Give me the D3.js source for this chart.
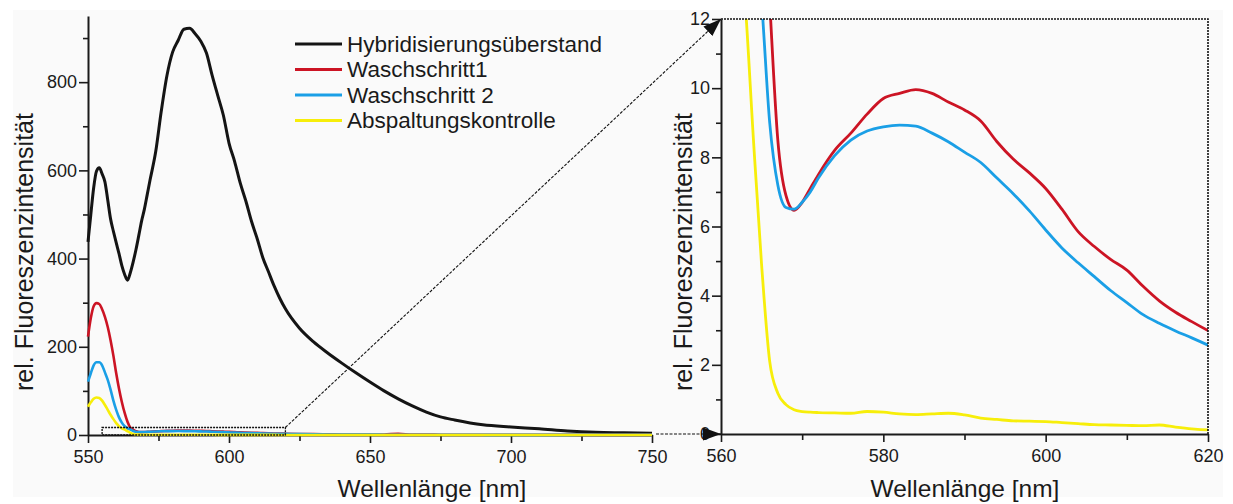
<!DOCTYPE html>
<html>
<head>
<meta charset="utf-8">
<script src="https://cdn.jsdelivr.net/npm/d3@7"></script>
<style>
  html, body { margin: 0; background: #fff; }
  svg { display: block; }
  text { font-family: "Liberation Sans", Arial, Helvetica, sans-serif; fill: #1a1a1a; }
</style>
</head>
<body>
<svg id="chart" width="1233" height="504"></svg>
<script>
// Emission spectra, wavelength grid in nm
const wavelengths = [550, 551, 552, 553, 554, 555, 556, 557, 558, 559, 560, 561, 562, 563, 564, 565, 566, 567, 568, 569,
  570, 571, 572, 574, 576, 578, 580, 582, 584, 586, 588, 590, 592, 594, 596, 598, 600, 602, 604, 606, 608, 610,
  612, 614, 616, 618, 620, 625, 630, 635, 640, 645, 650, 655, 660, 665, 670, 675, 680, 690, 700, 710, 720, 730, 740, 750];

const hybridisierung = [438, 500, 560, 598, 606, 592, 574, 533, 490, 462, 436, 411, 384, 364, 351, 368, 392, 420, 452, 485,
  512, 545, 578, 642, 735, 815, 868, 895, 920, 922, 910, 893, 866, 816, 770, 725, 662, 620, 571, 530, 484, 445,
  402, 370, 338, 310, 286, 242, 211, 186, 163, 141, 120, 100, 82, 66, 52, 41, 34, 23, 18, 14, 9, 6, 5, 4];

const waschschritt1 = [223, 265, 292, 299, 297, 285, 268, 245, 215, 180, 140, 105, 75, 50, 30, 17, 12.5, 8.5, 6.9, 6.47,
  6.7, 7.1, 7.5, 8.2, 8.7, 9.25, 9.7, 9.85, 9.96, 9.85, 9.6, 9.37, 9.05, 8.45, 7.95, 7.55, 7.1, 6.5, 5.85, 5.42, 5.05, 4.74,
  4.27, 3.85, 3.52, 3.25, 2.99, 2.4, 1.9, 1.6, 1.3, 1.1, 1.0, 1.2, 2.6, 0.9, 0.8, 0.7, 0.6, 0.5, 0.5, 0.4, 0.4, 0.3, 0.3, 0.3];

const waschschritt2 = [121, 140, 158, 165, 165, 158, 142, 125, 103, 78, 57, 40, 28, 20, 15, 12.5, 9.0, 7.2, 6.55, 6.5,
  6.7, 7.0, 7.4, 8.05, 8.5, 8.76, 8.88, 8.93, 8.9, 8.7, 8.45, 8.15, 7.85, 7.4, 6.95, 6.45, 5.9, 5.38, 4.95, 4.55, 4.15, 3.8,
  3.45, 3.2, 2.98, 2.78, 2.57, 2.0, 1.6, 1.3, 1.1, 0.9, 0.8, 0.7, 0.6, 0.6, 0.5, 0.5, 0.4, 0.4, 0.3, 0.3, 0.3, 0.3, 0.3, 0.3];

const abspaltungskontrolle = [64, 74, 82, 85, 84, 78, 68, 57, 46, 36, 27, 20, 15, 12.4, 8.5, 4.9, 2.1, 1.18, 0.85, 0.7,
  0.65, 0.63, 0.62, 0.61, 0.6, 0.65, 0.63, 0.58, 0.56, 0.58, 0.6, 0.55, 0.46, 0.42, 0.38, 0.37, 0.36, 0.33, 0.3, 0.27, 0.26, 0.25,
  0.24, 0.26, 0.2, 0.15, 0.12, 0.1, 0.1, 0.1, 0.1, 0.1, 0.1, 0.1, 0.1, 0.1, 0.1, 0.1, 0.1, 0.1, 0.1, 0.1, 0.1, 0.1, 0.1, 0.1];

const seriesNames = ["Hybridisierungsüberstand", "Waschschritt1", "Waschschritt 2", "Abspaltungskontrolle"];
const seriesColors = ["#141414", "#cc1424", "#1a9fe6", "#f7ee0a"];
const seriesValues = [hybridisierung, waschschritt1, waschschritt2, abspaltungskontrolle];

// Axis ticks
const overviewXTicks = [550, 600, 650, 700, 750];
const overviewXMinor = [575, 625, 675, 725];
const overviewYTicks = [0, 200, 400, 600, 800];
const overviewYMinor = [100, 300, 500, 700, 900];
const detailXTicks = [560, 580, 600, 620];
const detailXMinor = [570, 590, 610];
const detailYTicks = [0, 2, 4, 6, 8, 10, 12];
const detailYMinor = [1, 3, 5, 7, 9, 11];

// Region of the overview that is enlarged in the detail panel
const zoomWavelengths = [555, 620];
const zoomIntensity = [0, 17];

const axisTitleX = "Wellenlänge [nm]";
const axisTitleY = "rel. Fluoreszenzintensität";

const svg = d3.select("#chart");

// panel background
svg.append("rect").attr("x", 13).attr("y", 10).attr("width", 1210).attr("height", 487).attr("fill", "#fafafa");

const series = seriesNames.map((name, i) => ({
  name, color: seriesColors[i],
  points: wavelengths.map((w, j) => [w, seriesValues[i][j]])
}));

// ---------- scales ----------
const xL = d3.scaleLinear().domain([550, 750]).range([88, 652]);
const yL = d3.scaleLinear().domain([0, 950]).range([435, 16]);
const xR = d3.scaleLinear().domain([560, 620]).range([721, 1208]);
const yR = d3.scaleLinear().domain([0, 12]).range([434, 19]);

function styleAxis(g) {
  g.selectAll("path.domain").attr("stroke", "#1a1a1a").attr("stroke-width", 2);
  g.selectAll(".tick line").attr("stroke", "#1a1a1a").attr("stroke-width", 1.6);
  g.selectAll(".tick text").attr("font-size", 18).attr("fill", "#1a1a1a")
    .attr("font-family", '"Liberation Sans", Arial, sans-serif');
}

function drawAxes(x, y, xTicks, xMinor, yTicks, yMinor) {
  const x0 = x.range()[0], y0 = y.range()[0];
  // minor ticks
  svg.append("g").attr("transform", `translate(0,${y0})`)
    .call(d3.axisBottom(x).tickValues(xMinor).tickSize(6).tickFormat(""))
    .call(g => g.select(".domain").remove()).call(styleAxis);
  svg.append("g").attr("transform", `translate(${x0},0)`)
    .call(d3.axisLeft(y).tickValues(yMinor).tickSize(5).tickFormat(""))
    .call(g => g.select(".domain").remove()).call(styleAxis);
  // major ticks
  svg.append("g").attr("transform", `translate(0,${y0})`)
    .call(d3.axisBottom(x).tickValues(xTicks).tickSize(8).tickSizeOuter(0).tickPadding(7).tickFormat(d3.format("d")))
    .call(styleAxis);
  svg.append("g").attr("transform", `translate(${x0},0)`)
    .call(d3.axisLeft(y).tickValues(yTicks).tickSize(9).tickSizeOuter(0).tickPadding(2).tickFormat(d3.format("d")))
    .call(styleAxis);
}

// ---------- overview panel ----------
drawAxes(xL, yL, overviewXTicks, overviewXMinor, overviewYTicks, overviewYMinor);

const lineL = d3.line().x(d => xL(d[0])).y(d => yL(d[1])).curve(d3.curveMonotoneX);
svg.append("g").selectAll("path").data(series).join("path")
  .attr("d", d => lineL(d.points))
  .attr("fill", "none")
  .attr("stroke", d => d.color)
  .attr("stroke-width", (d, i) => i === 0 ? 3 : 2.6)
  .attr("stroke-linejoin", "round");

// dotted frame of the enlarged region
svg.append("rect")
  .attr("x", xL(zoomWavelengths[0])).attr("y", yL(zoomIntensity[1]))
  .attr("width", xL(zoomWavelengths[1]) - xL(zoomWavelengths[0]))
  .attr("height", yL(zoomIntensity[0]) - yL(zoomIntensity[1]))
  .attr("fill", "none").attr("stroke", "#111").attr("stroke-width", 1.3).attr("stroke-dasharray", "2,1");

// ---------- detail panel ----------
drawAxes(xR, yR, detailXTicks, detailXMinor, detailYTicks, detailYMinor);

svg.append("clipPath").attr("id", "detail-clip").append("rect")
  .attr("x", xR(560)).attr("y", yR(12))
  .attr("width", xR(620) - xR(560)).attr("height", yR(0) - yR(12));

const lineR = d3.line().x(d => xR(d[0])).y(d => yR(d[1])).curve(d3.curveMonotoneX);
svg.append("g").attr("clip-path", "url(#detail-clip)")
  .selectAll("path").data(series).join("path")
  .attr("d", d => lineR(d.points.filter(p => p[0] >= 555 && p[0] <= 625)))
  .attr("fill", "none")
  .attr("stroke", d => d.color)
  .attr("stroke-width", 2.8)
  .attr("stroke-linejoin", "round");

// dotted top and right frame of the detail panel
svg.append("path")
  .attr("d", `M${xR(560)},${yR(12)}H${xR(620)}V${yR(0)}`)
  .attr("fill", "none").attr("stroke", "#111").attr("stroke-width", 1.6).attr("stroke-dasharray", "2,1");

// ---------- connecting arrows ----------
const defs = svg.append("defs");
defs.append("marker").attr("id", "arrowhead")
  .attr("markerUnits", "userSpaceOnUse")
  .attr("markerWidth", 20).attr("markerHeight", 14)
  .attr("refX", 18).attr("refY", 6.5).attr("orient", "auto")
  .append("path").attr("d", "M0,0L18,6.5L0,13Z").attr("fill", "#111");

svg.append("line")
  .attr("x1", xL(zoomWavelengths[1])).attr("y1", yL(zoomIntensity[1]))
  .attr("x2", xR(560)).attr("y2", yR(12))
  .attr("stroke", "#111").attr("stroke-width", 1.1).attr("stroke-dasharray", "3,1.5")
  .attr("marker-end", "url(#arrowhead)");

svg.append("line")
  .attr("x1", xL(750) + 4).attr("y1", yR(0))
  .attr("x2", xR(560)).attr("y2", yR(0))
  .attr("stroke", "#111").attr("stroke-width", 1.1).attr("stroke-dasharray", "3,1.5")
  .attr("marker-end", "url(#arrowhead)");

// ---------- legend ----------
const legend = svg.append("g").attr("transform", "translate(295,44)");
const rows = legend.selectAll("g").data(series).join("g")
  .attr("transform", (d, i) => `translate(0,${i * 25.5})`);
rows.append("line").attr("x1", 0).attr("x2", 47).attr("y1", 0).attr("y2", 0)
  .attr("stroke", d => d.color).attr("stroke-width", 3);
rows.append("text").attr("x", 52).attr("y", 0).attr("dy", "0.35em")
  .attr("font-size", 22.5).text(d => d.name);

// ---------- axis titles ----------
svg.append("text").attr("x", 432).attr("y", 497).attr("text-anchor", "middle")
  .attr("font-size", 24.5).text(axisTitleX);
svg.append("text").attr("x", 965).attr("y", 497).attr("text-anchor", "middle")
  .attr("font-size", 24.5).text(axisTitleX);
svg.append("text").attr("transform", "translate(33,252) rotate(-90)").attr("text-anchor", "middle")
  .attr("font-size", 25).text(axisTitleY);
svg.append("text").attr("transform", "translate(692,252) rotate(-90)").attr("text-anchor", "middle")
  .attr("font-size", 25).text(axisTitleY);
</script>
</body>
</html>
